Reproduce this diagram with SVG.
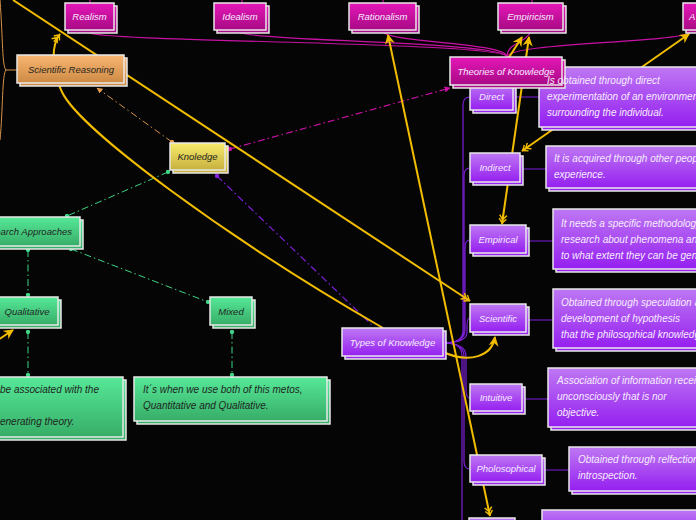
<svg xmlns="http://www.w3.org/2000/svg" width="696" height="520" viewBox="0 0 696 520">
<defs>
<linearGradient id="gMag" x1="0" y1="0" x2="0" y2="1"><stop offset="0" stop-color="#e417b8"/><stop offset="1" stop-color="#a80a85"/></linearGradient>
<linearGradient id="gPur" x1="0" y1="0" x2="0" y2="1"><stop offset="0" stop-color="#be78f3"/><stop offset="1" stop-color="#951ff0"/></linearGradient>
<linearGradient id="gGrn" x1="0" y1="0" x2="0" y2="1"><stop offset="0" stop-color="#56e898"/><stop offset="1" stop-color="#37ad67"/></linearGradient>
<linearGradient id="gOrg" x1="0" y1="0" x2="0" y2="1"><stop offset="0" stop-color="#f8b672"/><stop offset="1" stop-color="#cd8a44"/></linearGradient>
<linearGradient id="gYel" x1="0" y1="0" x2="0" y2="1"><stop offset="0" stop-color="#f8ec6c"/><stop offset="1" stop-color="#c6b03e"/></linearGradient>
<marker id="arr" viewBox="0 0 10 10" refX="9" refY="5" markerWidth="10" markerHeight="10" markerUnits="userSpaceOnUse" orient="auto-start-reverse"><path d="M0,0 L10,5 L0,10 L3,5z" fill="#f2bd00"/></marker>
<marker id="chev" viewBox="0 0 12 10" refX="11" refY="5" markerWidth="11" markerHeight="9" markerUnits="userSpaceOnUse" orient="auto-start-reverse"><path d="M1,1 L6,5 L1,9 M5,1 L10,5 L5,9 M0,5 L11,5" fill="none" stroke="#f2bd00" stroke-width="1.6"/></marker>
<marker id="dG" viewBox="0 0 6 6" refX="3" refY="3" markerWidth="5" markerHeight="5" markerUnits="userSpaceOnUse"><circle cx="3" cy="3" r="2.6" fill="#3fd585"/></marker>
<marker id="dM" viewBox="0 0 6 6" refX="3" refY="3" markerWidth="5" markerHeight="5" markerUnits="userSpaceOnUse"><circle cx="3" cy="3" r="2.6" fill="#d010a8"/></marker>
<marker id="dP" viewBox="0 0 6 6" refX="3" refY="3" markerWidth="5" markerHeight="5" markerUnits="userSpaceOnUse"><circle cx="3" cy="3" r="2.6" fill="#8a20e0"/></marker>
<marker id="dO" viewBox="0 0 6 6" refX="3" refY="3" markerWidth="5" markerHeight="5" markerUnits="userSpaceOnUse"><circle cx="3" cy="3" r="2.6" fill="#e09a50"/></marker>
<marker id="aM" viewBox="0 0 10 10" refX="9" refY="5" markerWidth="6" markerHeight="6" markerUnits="userSpaceOnUse" orient="auto-start-reverse"><path d="M0,0 L10,5 L0,10z" fill="#d010a8"/></marker>
<marker id="aO" viewBox="0 0 10 10" refX="9" refY="5" markerWidth="6" markerHeight="6" markerUnits="userSpaceOnUse" orient="auto-start-reverse"><path d="M0,0 L10,5 L0,10z" fill="#e09a50"/></marker>
</defs>
<style>
.n rect{stroke:#e8e8e8;stroke-width:1.5}
.mag rect{fill:url(#gMag)}
.pur rect{fill:url(#gPur)}
.grn rect{fill:url(#gGrn)}
.org rect{fill:url(#gOrg)}
.yel rect{fill:url(#gYel)}
text{font-family:"Liberation Sans",Arial,sans-serif;font-style:italic;font-size:9.5px}
.lt text{fill:#f6ecff}
.dk text{fill:#1e261e}
text.c{text-anchor:middle}
text.d{font-size:10px}
.y{fill:none;stroke:#f2bd00;stroke-width:2}
.m{fill:none;stroke:#c812a4;stroke-width:1.2}
.p{fill:none;stroke:#7d1fd8;stroke-width:1.2}
.dash{stroke-dasharray:7,3,1.5,3}
.g{fill:none;stroke:#3fd585;stroke-width:1}
.o{fill:none;stroke:#d8934a;stroke-width:1}
</style>
<rect width="696" height="520" fill="#050505"/>

<g id="connectors">
  <path class="o" d="M17,70 H6"/>
  <path class="o" d="M6,70 C2,66 3,40 0,0"/>
  <path class="o" d="M6,70 C2,74 3,110 0,140"/>
  <path class="m" d="M507,57 C507,42 110,42 90,33"/>
  <path class="m" d="M507,57 C507,42 262,41 241,33"/>
  <path class="m" d="M507,57 C507,43 400,43 384,33"/>
  <path class="m" d="M507,57 C507,43 525,43 530,33"/>
  <path class="m" d="M507,57 C507,43 670,43 690,33"/>
  <path class="m" d="M90,0 V3 M242,0 V3 M383,0 V3 M532,0 V3"/>
  <path class="m dash" d="M230,149 L450,88" marker-start="url(#dM)" marker-end="url(#aM)"/>
  <path class="o dash" d="M172,142 L97,88" marker-start="url(#dO)" marker-end="url(#aO)"/>
  <path class="g dash" d="M168,172 L67,216" marker-start="url(#dG)" marker-end="url(#dG)"/>
  <path class="g dash" d="M28,250 L28,295" marker-start="url(#dG)" marker-end="url(#dG)"/>
  <path class="g dash" d="M71,249 L208,302" marker-start="url(#dG)" marker-end="url(#dG)"/>
  <path class="g dash" d="M28,332 L28,375" marker-start="url(#dG)" marker-end="url(#dG)"/>
  <path class="g dash" d="M232,332 L232,375" marker-start="url(#dG)" marker-end="url(#dG)"/>
  <path class="p dash" d="M217,176 L373,326" marker-start="url(#dP)"/>
  <path class="p" d="M443,343 C456,343 463,340 463,330 V105 Q463,97 470,97"/>
  <path class="p" d="M443,343 C456,343 464,340 464,330 V176 Q464,168 470,168"/>
  <path class="p" d="M443,343 C456,343 465,340 465,330 V248 Q465,240 470,240"/>
  <path class="p" d="M443,343 C456,343 467,340 467,332 V326 Q467,318 470,318"/>
  <path class="p" d="M443,343 C456,343 466,346 466,356 V390 Q466,398 470,398"/>
  <path class="p" d="M443,343 C456,343 464,346 464,356 V461 Q464,469 470,469"/>
  <path class="p" d="M443,343 C456,343 462,346 462,356 V520"/>
  <path class="p" d="M513,97 H539 M520,169 H546 M526,241 H553 M526,320 H553 M522,399 H548 M542,470 H569"/>
  <path class="y" d="M13,0 L470,301" marker-end="url(#chev)"/>
  <path class="y" d="M383,328 C230,240 80,130 62,92 C50,68 52,44 60,34" marker-end="url(#chev)"/>
  <path class="y" d="M443,352 C470,364 492,356 495,337" marker-end="url(#arr)"/>
  <path class="y" d="M490,516 L388,35" marker-start="url(#chev)" marker-end="url(#arr)"/>
  <path class="y" d="M502,224 L529,37" marker-start="url(#chev)" marker-end="url(#arr)"/>
  <path class="y" d="M492,84 L522,37" marker-end="url(#arr)"/>
  <path class="y" d="M522,151 L689,34" marker-start="url(#chev)" marker-end="url(#arr)"/>
  <path class="y" d="M-5,342 L13,330" marker-end="url(#arr)"/>
</g>

<g id="realism" class="n mag lt"><rect x="68" y="6" width="49" height="27"/><rect x="65" y="3" width="49" height="27"/><text class="c" x="89.5" y="19.5">Realism</text></g>
<g id="idealism" class="n mag lt"><rect x="217" y="6" width="52" height="27"/><rect x="214" y="3" width="52" height="27"/><text class="c" x="240" y="19.5">Idealism</text></g>
<g id="rationalism" class="n mag lt"><rect x="352" y="6" width="67" height="27"/><rect x="349" y="3" width="67" height="27"/><text class="c" x="382.5" y="19.5">Rationalism</text></g>
<g id="empiricism" class="n mag lt"><rect x="501" y="6" width="65" height="27"/><rect x="498" y="3" width="65" height="27"/><text class="c" x="530.5" y="19.5">Empiricism</text></g>
<g id="a-node" class="n mag lt"><rect x="686" y="6" width="40" height="27"/><rect x="683" y="3" width="40" height="27"/><text x="689" y="19.5">A</text></g>

<g id="direct" class="n pur lt"><rect x="473" y="86" width="43" height="27"/><rect x="470" y="83" width="43" height="27"/><text class="c" x="491.5" y="99.5">Direct</text></g>
<g id="direct-desc" class="n pur lt"><rect x="542" y="70" width="170" height="60"/><rect x="539" y="67" width="170" height="60"/></g>
<g id="theories" class="n mag lt"><rect x="453" y="60" width="112" height="28"/><rect x="450" y="57" width="112" height="28"/><text class="c" x="506" y="74.5">Theories of Knowledge</text></g>
<g id="direct-desc-text" class="lt"><text class="d" x="547" y="83.5">Is obtained through direct</text><text class="d" x="547" y="99.5">experimentation of an environment</text><text class="d" x="547" y="115.5">surrounding the individual.</text></g>

<g id="indirect" class="n pur lt"><rect x="473" y="156" width="50" height="29"/><rect x="470" y="153" width="50" height="29"/><text class="c" x="495" y="170.5">Indirect</text></g>
<g id="indirect-desc" class="n pur lt"><rect x="549" y="149" width="160" height="42"/><rect x="546" y="146" width="160" height="42"/><text class="d" x="554" y="161.5">It is acquired through other peop</text><text class="d" x="554" y="177.5">experience.</text></g>

<g id="empirical" class="n pur lt"><rect x="473" y="228" width="56" height="28"/><rect x="470" y="225" width="56" height="28"/><text class="c" x="498" y="242.5">Empirical</text></g>
<g id="empirical-desc" class="n pur lt"><rect x="556" y="212" width="160" height="60"/><rect x="553" y="209" width="160" height="60"/><text class="d" x="561" y="226.5">It needs a specific methodology</text><text class="d" x="561" y="242.5">research about phenomena and</text><text class="d" x="561" y="258.5">to what extent they can be gen</text></g>

<g id="scientific" class="n pur lt"><rect x="473" y="307" width="56" height="28"/><rect x="470" y="304" width="56" height="28"/><text class="c" x="498" y="321.5">Scientific</text></g>
<g id="scientific-desc" class="n pur lt"><rect x="556" y="292" width="160" height="59"/><rect x="553" y="289" width="160" height="59"/><text class="d" x="561" y="305.5">Obtained through speculation a</text><text class="d" x="561" y="321.5">development of hypothesis</text><text class="d" x="561" y="337.5">that the philosophical knowledg</text></g>

<g id="intuitive" class="n pur lt"><rect x="473" y="387" width="52" height="27"/><rect x="470" y="384" width="52" height="27"/><text class="c" x="496" y="401">Intuitive</text></g>
<g id="intuitive-desc" class="n pur lt"><rect x="551" y="371" width="160" height="59"/><rect x="548" y="368" width="160" height="59"/><text class="d" x="557" y="383.5">Association of information recei</text><text class="d" x="557" y="399.5">unconsciously that is nor</text><text class="d" x="557" y="415.5">objective.</text></g>

<g id="philosophical" class="n pur lt"><rect x="473" y="458" width="72" height="27"/><rect x="470" y="455" width="72" height="27"/><text class="c" x="506" y="472">Pholosophical</text></g>
<g id="philosophical-desc" class="n pur lt"><rect x="572" y="450" width="140" height="44"/><rect x="569" y="447" width="140" height="44"/><text class="d" x="578" y="462.5">Obtained through relfection</text><text class="d" x="578" y="478.5">introspection.</text></g>

<g id="bottom-node" class="n pur lt"><rect x="472" y="521" width="46" height="20"/><rect x="469" y="518" width="46" height="20"/></g>
<g id="bottom-desc" class="n pur lt"><rect x="545" y="513" width="170" height="30"/><rect x="542" y="510" width="170" height="30"/></g>

<g id="types" class="n pur lt"><rect x="345" y="331" width="101" height="28"/><rect x="342" y="328" width="101" height="28"/><text class="c" x="392.5" y="345.5">Types of Knowledge</text></g>

<g id="sci-reasoning" class="n org dk"><rect x="20" y="58" width="107" height="28"/><rect x="17" y="55" width="107" height="28"/><text class="c" x="71" y="72.5">Scientific Reasoning</text></g>
<g id="knoledge" class="n yel dk"><rect x="173" y="146" width="55" height="27"/><rect x="170" y="143" width="55" height="27"/><text class="c" x="197.5" y="160">Knoledge</text></g>

<g id="research" class="n grn dk"><rect x="-7" y="220" width="90" height="29"/><rect x="-10" y="217" width="90" height="29"/><text x="72" y="234.5" style="text-anchor:end">Research Approaches</text></g>
<g id="qualitative" class="n grn dk"><rect x="-7" y="300" width="68" height="28"/><rect x="-10" y="297" width="68" height="28"/><text class="c" x="27" y="314.5">Qualitative</text></g>
<g id="mixed" class="n grn dk"><rect x="213" y="300" width="42" height="28"/><rect x="210" y="297" width="42" height="28"/><text class="c" x="231" y="314.5">Mixed</text></g>
<g id="qualitative-desc" class="n grn dk"><rect x="-7" y="380" width="133" height="60"/><rect x="-10" y="377" width="133" height="60"/><text class="d" x="0" y="392.5">be associated with the</text><text class="d" x="0" y="424.5">enerating theory.</text></g>
<g id="mixed-desc" class="n grn dk"><rect x="137" y="380" width="193" height="44"/><rect x="134" y="377" width="193" height="44"/><text class="d" x="143" y="392.5">It´s when we use both of this metos,</text><text class="d" x="143" y="408.5">Quantitative and Qualitative.</text></g>
</svg>
